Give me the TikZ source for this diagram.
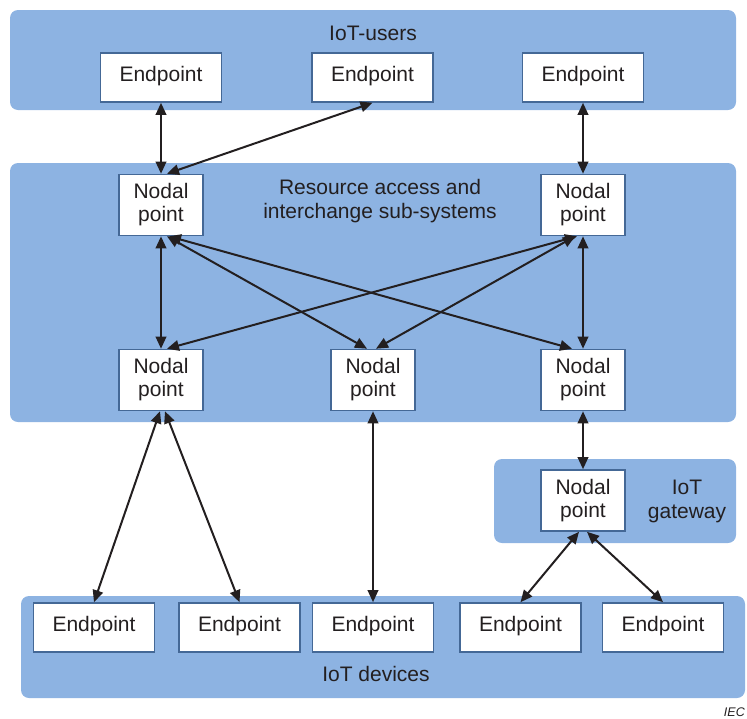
\documentclass[tikz,border=0pt]{standalone}
\usepackage{fontspec}
\setmainfont{Liberation Sans}
\usetikzlibrary{arrows.meta}
\definecolor{panelblue}{RGB}{141,179,226}
\definecolor{boxedge}{RGB}{68,104,150}
\definecolor{ink}{RGB}{35,31,32}
\begin{document}
\begin{tikzpicture}[x=1pt,y=-1pt,
  panel/.style={fill=panelblue, draw=none, rounded corners=8pt},
  boxbase/.style={draw=boxedge, line width=1.6pt, fill=white, inner sep=0pt, text=ink},
  endbox/.style={boxbase, minimum width=121pt, minimum height=49pt, font=\fontsize{21}{24}\selectfont, text height=15pt, text depth=7.5pt},
  nodalbox/.style={boxbase, minimum width=84pt, minimum height=61pt, align=center, font=\fontsize{21}{23}\selectfont},
  lbl/.style={font=\fontsize{21}{24}\selectfont, text=ink, align=center, inner sep=0pt},
  link/.style={draw=ink, line width=2pt, {Triangle[length=12pt,width=10.5pt]}-{Triangle[length=12pt,width=10.5pt]}}
]
\useasboundingbox (0,0) rectangle (747,718);
% panels
\fill[panel] (10,10) rectangle (736,110);
\fill[panel] (10,163) rectangle (736,422);
\fill[panel] (494,459) rectangle (736,543);
\fill[panel] (21,596) rectangle (745,698);
% panel titles
\node[lbl] (tusers) at (373,33) {IoT-users};
\node[lbl] (tras) at (380,201) {Resource access and\\interchange sub-systems};
\node[lbl] (tgate) at (687,501) {IoT\\gateway};
\node[lbl] (tdev) at (376,674) {IoT devices};
% user endpoints
\node[endbox] (u1) at (161,77.5) {Endpoint};
\node[endbox] (u2) at (372.5,77.5) {Endpoint};
\node[endbox] (u3) at (583,77.5) {Endpoint};
% nodal points
\node[nodalbox] (tl) at (161,205) {Nodal\\point};
\node[nodalbox] (tr) at (583,205) {Nodal\\point};
\node[nodalbox] (bl) at (161,380) {Nodal\\point};
\node[nodalbox] (bm) at (373,380) {Nodal\\point};
\node[nodalbox] (br) at (583,380) {Nodal\\point};
\node[nodalbox] (gw) at (583,500.5) {Nodal\\point};
% device endpoints
\node[endbox] (d1) at (94,627.5) {Endpoint};
\node[endbox] (d2) at (239.5,627.5) {Endpoint};
\node[endbox] (d3) at (373,627.5) {Endpoint};
\node[endbox] (d4) at (520.5,627.5) {Endpoint};
\node[endbox] (d5) at (663,627.5) {Endpoint};
% links
\draw[link] (u1.south) -- (tl.north);
\draw[link] (u2.south) -- ([xshift=6pt]tl.north);
\draw[link] (u3.south) -- (tr.north);
\draw[link] (tl.south) -- (bl.north);
\draw[link] ([xshift=6pt]tl.south) -- ([xshift=-6pt]bm.north);
\draw[link] ([xshift=8pt]tl.south) -- ([xshift=-11pt]br.north);
\draw[link] ([xshift=-6pt]tr.south) -- ([xshift=6pt]bl.north);
\draw[link] ([xshift=-8pt]tr.south) -- ([xshift=3pt]bm.north);
\draw[link] (tr.south) -- (br.north);
\draw[link] ([xshift=-1pt]bl.south) -- (d1.north);
\draw[link] ([xshift=4pt]bl.south) -- (d2.north);
\draw[link] (bm.south) -- (d3.north);
\draw[link] (br.south) -- (gw.north);
\draw[link] ([xshift=-4pt]gw.south) -- (d4.north);
\draw[link] ([xshift=4pt]gw.south) -- (d5.north);
% credit
\node[anchor=base east, inner sep=0pt, font=\fontsize{12.5}{14}\selectfont\itshape, text=ink] (iec) at (745,716) {IEC};
\end{tikzpicture}
\end{document}
